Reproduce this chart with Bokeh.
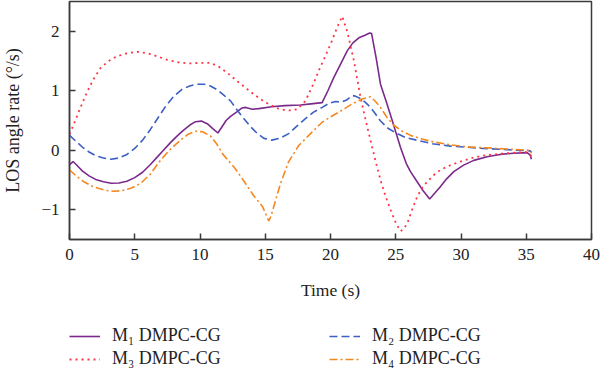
from bokeh.plotting import figure
from bokeh.layouts import column
from bokeh.models import Legend, LegendItem, CustomJSTickFormatter, FixedTicker, Range1d
from bokeh.embed import file_html
from bokeh.resources import INLINE

# ---- data ----
t1 = [0, 0.28, 0.6, 1.0, 1.5, 2.0, 2.6, 3.2, 3.8, 4.4, 5.0, 5.6, 6.2, 6.7, 7.2, 7.7, 8.2, 8.7, 9.2, 9.65, 10.1, 10.6, 11.0, 11.37, 11.7, 12.0, 12.34, 12.8, 13.2, 13.5, 14.0, 14.5, 15.5, 16.5, 17.7, 18.5, 19.36, 19.8, 20.25, 20.8, 21.28, 21.7, 22.17, 22.6, 23.0, 23.15, 23.5, 23.83, 24.3, 24.73, 25.36, 25.8, 26.13, 26.64, 27.1, 27.6, 28.0, 28.43, 28.9, 29.45, 30.2, 30.98, 32.0, 33.0, 34.0, 35.07, 35.3, 35.4]
v1 = [-0.24, -0.19, -0.26, -0.35, -0.43, -0.49, -0.53, -0.555, -0.55, -0.52, -0.46, -0.37, -0.24, -0.12, 0.0, 0.12, 0.23, 0.33, 0.42, 0.48, 0.49, 0.44, 0.36, 0.29, 0.40, 0.50, 0.57, 0.64, 0.71, 0.72, 0.69, 0.70, 0.73, 0.75, 0.76, 0.78, 0.80, 1.00, 1.22, 1.46, 1.67, 1.80, 1.89, 1.93, 1.97, 1.96, 1.55, 1.11, 0.80, 0.50, 0.05, -0.22, -0.36, -0.53, -0.68, -0.82, -0.72, -0.61, -0.48, -0.36, -0.25, -0.17, -0.11, -0.07, -0.05, -0.04, -0.08, -0.15]

t2 = [0, 0.5, 1.0, 1.5, 2.0, 2.6, 3.2, 3.8, 4.4, 5.0, 5.6, 6.2, 6.8, 7.4, 8.0, 8.6, 9.2, 9.8, 10.3, 10.8, 11.3, 11.8, 12.34, 12.9, 13.4, 13.9, 14.4, 14.9, 15.5, 16.1, 16.8, 17.4, 18.08, 18.7, 19.36, 19.9, 20.38, 20.8, 21.2, 21.66, 21.9, 22.3, 22.7, 23.06, 23.45, 23.8, 24.4, 25.1, 25.8, 26.6, 27.8, 29.2, 30.5, 31.75, 33.5, 35.3, 35.4]
v2 = [0.25, 0.15, 0.05, -0.03, -0.09, -0.13, -0.15, -0.13, -0.07, 0.03, 0.17, 0.35, 0.55, 0.75, 0.91, 1.02, 1.08, 1.11, 1.11, 1.08, 1.02, 0.93, 0.83, 0.66, 0.52, 0.39, 0.28, 0.20, 0.17, 0.20, 0.28, 0.40, 0.53, 0.64, 0.72, 0.79, 0.82, 0.81, 0.84, 0.92, 0.91, 0.87, 0.80, 0.72, 0.61, 0.50, 0.37, 0.28, 0.21, 0.17, 0.11, 0.07, 0.05, 0.03, 0.01, -0.01, -0.03]

t3 = [0, 0.3, 0.7, 1.0, 1.35, 1.8, 2.37, 3.0, 3.65, 4.4, 5.2, 6.0, 6.7, 7.5, 8.5, 9.3, 10.1, 10.8, 11.4, 12.1, 12.8, 13.6, 14.25, 14.9, 15.5, 16.0, 16.55, 17.0, 17.45, 18.08, 18.7, 19.2, 19.6, 20.0, 20.5, 20.9, 21.28, 21.8, 22.3, 22.7, 23.06, 23.45, 23.83, 24.2, 24.6, 25.0, 25.36, 25.6, 25.9, 26.25, 26.64, 27.0, 27.4, 27.9, 28.43, 29.2, 29.96, 31.0, 32.0, 33.5, 35.07, 35.4]
v3 = [0.27, 0.42, 0.64, 0.80, 0.98, 1.18, 1.38, 1.50, 1.58, 1.63, 1.655, 1.63, 1.58, 1.52, 1.47, 1.46, 1.47, 1.47, 1.41, 1.30, 1.17, 1.03, 0.92, 0.82, 0.75, 0.70, 0.67, 0.67, 0.69, 0.83, 1.12, 1.39, 1.58, 1.78, 2.06, 2.25, 2.00, 1.50, 0.89, 0.50, 0.17, -0.18, -0.50, -0.76, -1.00, -1.22, -1.36, -1.33, -1.22, -1.00, -0.78, -0.64, -0.53, -0.42, -0.33, -0.25, -0.19, -0.12, -0.08, -0.05, -0.03, -0.10]

t4 = [0, 0.5, 1.1, 1.7, 2.2, 2.8, 3.4, 4.0, 4.7, 5.44, 6.2, 6.97, 7.7, 8.5, 9.1, 9.65, 10.2, 10.8, 11.3, 11.8, 12.6, 13.4, 14.1, 14.77, 15.0, 15.27, 15.45, 15.66, 16.17, 16.8, 17.57, 18.47, 19.36, 20.0, 20.64, 21.66, 22.43, 23.06, 23.45, 23.83, 24.3, 24.85, 25.5, 26.13, 27.0, 27.9, 29.2, 30.5, 32.0, 33.5, 35.3, 35.4]
v4 = [-0.33, -0.43, -0.53, -0.60, -0.64, -0.675, -0.69, -0.68, -0.64, -0.56, -0.40, -0.17, 0.01, 0.17, 0.27, 0.32, 0.31, 0.24, 0.10, -0.08, -0.28, -0.53, -0.76, -0.94, -1.05, -1.19, -1.10, -0.94, -0.56, -0.19, 0.08, 0.28, 0.47, 0.56, 0.64, 0.78, 0.86, 0.90, 0.82, 0.72, 0.56, 0.42, 0.32, 0.25, 0.19, 0.14, 0.09, 0.055, 0.04, 0.02, 0.0, -0.05]

labels = ["M\u2081 DMPC-CG", "M\u2082 DMPC-CG", "M\u2083 DMPC-CG", "M\u2084 DMPC-CG"]
x_ticks = [0, 5, 10, 15, 20, 25, 30, 35, 40]
y_ticks = [-1, 0, 1, 2]

series = [(t1, v1), (t2, v2), (t3, v3), (t4, v4)]

FONT = "Liberation Serif"
AX = "#3a3a3a"
TXT = "#222222"
styles = [
    dict(line_color="#7b2a8c", line_width=1.6),
    dict(line_color="#3b5fc4", line_width=1.6, line_dash="8 4"),
    dict(line_color="#ff3344", line_width=1.8, line_dash="2 4"),
    dict(line_color="#f5871f", line_width=1.6, line_dash="8 3 2 3"),
]

p = figure(width=600, height=310, output_backend="svg", toolbar_location=None,
           x_range=Range1d(0, 40), y_range=Range1d(-1.5, 2.5),
           min_border_left=69, min_border_right=9, min_border_top=1, min_border_bottom=71)
p.grid.visible = False
p.outline_line_color = AX
p.outline_line_width = 1.5
p.border_fill_color = "white"

for (tx, vy), st in zip(series, styles):
    p.line(tx, vy, **st)

fmt = CustomJSTickFormatter(code="return tick < 0 ? '\u2212' + Math.abs(tick) : String(tick);")
for ax, ticks in ((p.xaxis[0], x_ticks), (p.yaxis[0], y_ticks)):
    ax.ticker = FixedTicker(ticks=ticks)
    ax.minor_tick_line_color = None
    ax.major_tick_in = 6
    ax.major_tick_out = 0
    ax.axis_line_color = AX
    ax.axis_line_width = 1.5
    ax.major_tick_line_color = AX
    ax.major_tick_line_width = 1.5
    ax.major_label_text_font = FONT
    ax.major_label_text_font_size = "17px"
    ax.major_label_text_color = TXT
    ax.axis_label_text_font = FONT
    ax.axis_label_text_font_style = "normal"
    ax.axis_label_text_color = TXT
    ax.formatter = fmt

p.xaxis.axis_label = "Time (s)"
p.xaxis.axis_label_text_font_size = "17.5px"
p.xaxis.major_label_standoff = 9
p.xaxis.axis_label_standoff = 17
p.yaxis.axis_label = "LOS angle rate (\u00b0/s)"
p.yaxis.axis_label_text_font_size = "18px"
p.yaxis.major_label_standoff = 10
p.yaxis.axis_label_standoff = 15

# legend strip below the chart (its lines lie outside the visible ranges)
lg = figure(width=600, height=66, output_backend="svg", toolbar_location=None,
            x_range=Range1d(1000, 1001), y_range=Range1d(1000, 1001),
            x_axis_location=None, y_axis_location=None,
            min_border_left=0, min_border_right=0, min_border_top=0, min_border_bottom=0)
lg.grid.visible = False
lg.outline_line_color = None
lg.border_fill_color = "white"
items = []
for lab, (tx, vy), st in zip(labels, series, styles):
    r = lg.line(tx, vy, **st)
    items.append(LegendItem(label=lab, renderers=[r]))

legend = Legend(items=items, location=(0, 7), orientation="horizontal", ncols=2,
                border_line_color=None, background_fill_alpha=0,
                padding=0, margin=0, spacing=2,
                glyph_width=31, glyph_height=20, label_height=20, label_width=215,
                label_standoff=12, label_text_font=FONT, label_text_font_size="18px",
                label_text_color=TXT)
lg.add_layout(legend, "center")

layout = column(p, lg, spacing=0)
open("out.html", "w").write(file_html(layout, INLINE))
